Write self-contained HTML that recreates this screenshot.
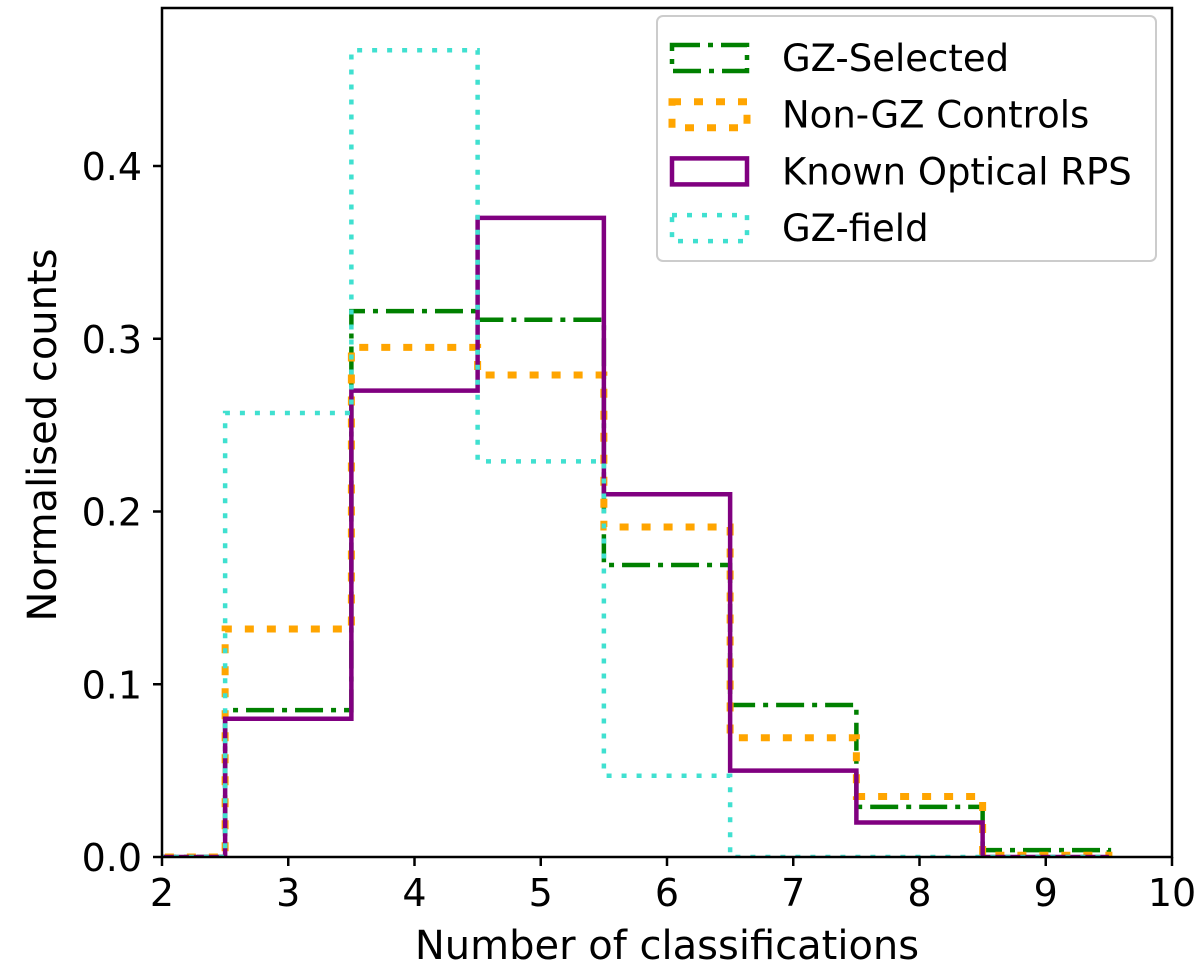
<!DOCTYPE html>
<html><head><meta charset="utf-8"><style>
body{margin:0;background:#fff}
svg text{font-family:"DejaVu Sans","Liberation Sans",sans-serif;fill:#000}
</style></head><body>
<svg id="chart" width="1200" height="975" xmlns="http://www.w3.org/2000/svg">
<defs><clipPath id="clip"><rect x="162" y="8" width="1010" height="849"/></clipPath></defs>
<g id="series" clip-path="url(#clip)"></g>
<rect x="162" y="8" width="1010" height="849" fill="none" stroke="#000" stroke-width="2.5"/>
<g id="axes"></g>
<text x="667" y="959" font-size="40" text-anchor="middle">Number of classifications</text>
<text transform="translate(56,435) rotate(-90)" font-size="40" text-anchor="middle">Normalised counts</text>
<g>
<rect x="657" y="16" width="499" height="245" rx="6" fill="#fff" stroke="#ccc" stroke-width="2"/>
<g id="legend"></g>
</g>
</svg>
<script>
const edges=[1.5,2.5,3.5,4.5,5.5,6.5,7.5,8.5,9.5];
const gzSelected=[0,0.085,0.316,0.311,0.169,0.088,0.029,0.004];
const nonGz=[0,0.132,0.295,0.279,0.191,0.069,0.035,0.001];
const knownRps=[0,0.080,0.270,0.370,0.210,0.050,0.020,0];
const gzField=[0,0.257,0.467,0.229,0.047,0,0,0];
const xTicks=[2,3,4,5,6,7,8,9,10];
const yTicks=[0,0.1,0.2,0.3,0.4];
const yTickLabels=["0.0","0.1","0.2","0.3","0.4"];
const seriesNames=["GZ-Selected","Non-GZ Controls","Known Optical RPS","GZ-field"];
const X=v=>162+(v-2)*126.25, Y=v=>857-v*1727.5;
const NS="http://www.w3.org/2000/svg";
const styles=[
 {c:"#008000",w:4.5,d:"28 8 5 8",name:"series-gz-selected"},
 {c:"#FFA500",w:7,d:"9 13",name:"series-non-gz-controls"},
 {c:"#800080",w:4.5,d:"",name:"series-known-optical-rps"},
 {c:"#40E0D0",w:4.5,d:"5 10",name:"series-gz-field"}];
const data=[gzSelected,nonGz,knownRps,gzField];
const g=document.getElementById('series');
data.forEach((vals,i)=>{
 let d="M"+X(edges[0])+","+Y(0);
 vals.forEach((v,k)=>{d+=" L"+X(edges[k])+","+Y(v)+" L"+X(edges[k+1])+","+Y(v);});
 d+=" L"+X(edges[edges.length-1])+","+Y(0);
 const p=document.createElementNS(NS,'path');
 p.setAttribute('d',d);p.setAttribute('fill','none');p.setAttribute('stroke',styles[i].c);
 p.setAttribute('stroke-width',styles[i].w);if(styles[i].d)p.setAttribute('stroke-dasharray',styles[i].d);
 
 
 g.appendChild(p);
});
const ax=document.getElementById('axes');
xTicks.forEach(t=>{
 const l=document.createElementNS(NS,'line');l.setAttribute('x1',X(t));l.setAttribute('x2',X(t));l.setAttribute('y1',857);l.setAttribute('y2',866);l.setAttribute('stroke','#000');l.setAttribute('stroke-width',2.5);
 
 
 ax.appendChild(l);
 const tx=document.createElementNS(NS,'text');tx.setAttribute('x',X(t));tx.setAttribute('y',906);tx.setAttribute('font-size',38);tx.setAttribute('text-anchor','middle');tx.textContent=t;
 
 
 ax.appendChild(tx);
});
yTicks.forEach((t,i)=>{
 const l=document.createElementNS(NS,'line');l.setAttribute('x1',153);l.setAttribute('x2',162);l.setAttribute('y1',Y(t));l.setAttribute('y2',Y(t));l.setAttribute('stroke','#000');l.setAttribute('stroke-width',2.5);
 
 
 ax.appendChild(l);
 const tx=document.createElementNS(NS,'text');tx.setAttribute('x',142);tx.setAttribute('y',Y(t)+14);tx.setAttribute('font-size',38);tx.setAttribute('text-anchor','end');tx.textContent=yTickLabels[i];
 
 
 ax.appendChild(tx);
});
const lg=document.getElementById('legend');
seriesNames.forEach((n,i)=>{
 const y=58+i*56.7;
 const r=document.createElementNS(NS,'rect');r.setAttribute('x',672);r.setAttribute('y',y-13);r.setAttribute('width',75);r.setAttribute('height',26);
 r.setAttribute('fill','none');r.setAttribute('stroke',styles[i].c);r.setAttribute('stroke-width',styles[i].w);if(styles[i].d)r.setAttribute('stroke-dasharray',styles[i].d);
 
 
 lg.appendChild(r);
 const tx=document.createElementNS(NS,'text');tx.setAttribute('x',782);tx.setAttribute('y',y+13);tx.setAttribute('font-size',37);tx.textContent=n;
 
 
 lg.appendChild(tx);
});
</script>
</body></html>
